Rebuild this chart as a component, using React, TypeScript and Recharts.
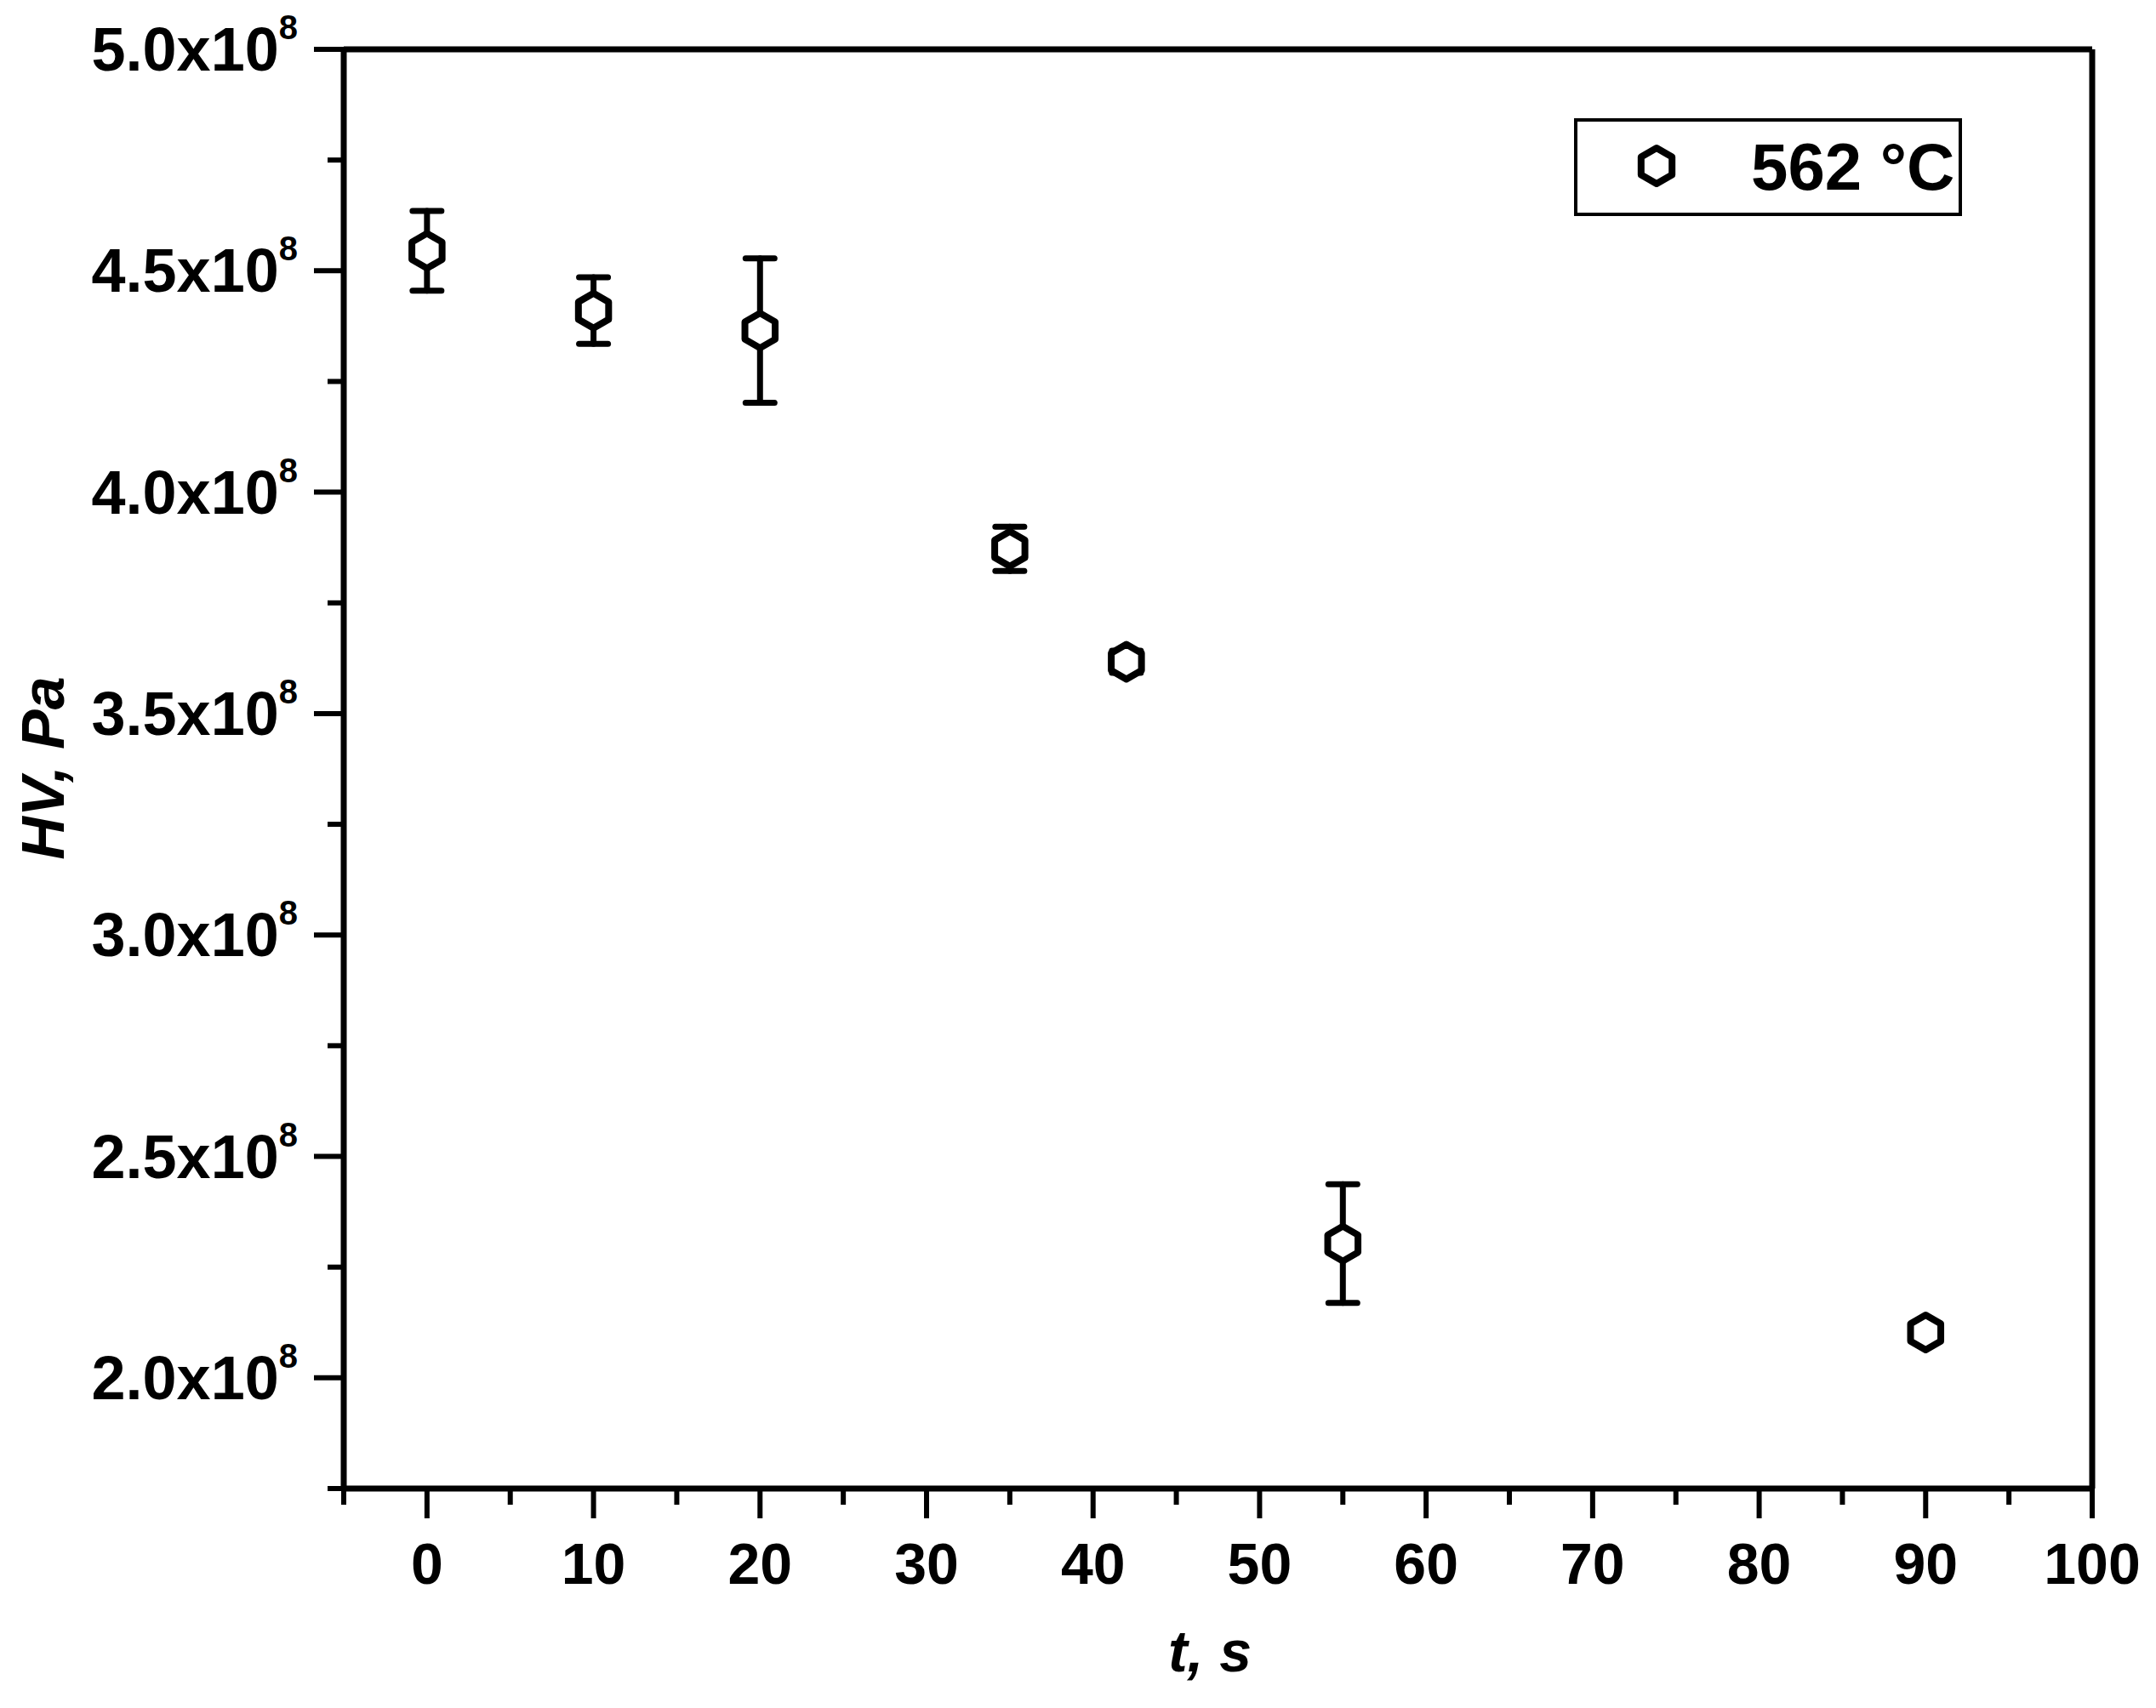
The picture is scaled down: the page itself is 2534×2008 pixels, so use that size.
import { ScatterChart, Scatter, XAxis, YAxis, ErrorBar, ReferenceLine, Legend } from "recharts";

// hardness vs holding time at 562 °C
const times = [0, 10, 20, 35, 42, 55, 90];
const hardness = [4.545e8, 4.41e8, 4.365e8, 3.872e8, 3.617e8, 2.303e8, 2.1025e8];
const hardnessErr = [0.09e8, 0.075e8, 0.163e8, 0.05e8, 0.025e8, 0.134e8, 0.006e8];

const xTicks = [-5, 0, 5, 10, 15, 20, 25, 30, 35, 40, 45, 50, 55, 60, 65, 70, 75, 80, 85, 90, 95, 100];
const yTicks = [1.75e8, 2.0e8, 2.25e8, 2.5e8, 2.75e8, 3.0e8, 3.25e8, 3.5e8, 3.75e8, 4.0e8, 4.25e8, 4.5e8, 4.75e8, 5.0e8];
const seriesName = "562 °C";

const FONT = '"Liberation Sans", Arial, Helvetica, sans-serif';

const points = times.map((t, i) => ({ t, hv: hardness[i], err: hardnessErr[i] }));

function hexPoints(cx: number, cy: number, r: number) {
  const pts: string[] = [];
  for (let k = 0; k < 6; k++) {
    const a = (Math.PI / 3) * k - Math.PI / 2;
    pts.push(`${cx + r * Math.cos(a)},${cy + r * Math.sin(a)}`);
  }
  return pts.join(" ");
}

function HexMarker(props: any) {
  const { cx, cy } = props;
  if (cx == null || cy == null) return <g />;
  return <polygon points={hexPoints(cx, cy, 20.5)} fill="#fff" stroke="#000" strokeWidth={8} strokeLinejoin="round" />;
}

function XTick(props: any) {
  const { x, y, payload } = props;
  const v = payload.value;
  const major = v % 10 === 0;
  const len = major ? 35 : 19;
  return (
    <g>
      <line x1={x} x2={x} y1={y} y2={y + len} stroke="#000" strokeWidth={6} />
      {major && (
        <text x={x} y={y + 112} textAnchor="middle" fontSize={68} fontWeight="bold" fontFamily={FONT} fill="#000">
          {v}
        </text>
      )}
    </g>
  );
}

function YTick(props: any) {
  const { x, y, payload } = props;
  const v = payload.value;
  const r = v / 0.5e8;
  const major = Math.abs(r - Math.round(r)) < 1e-6;
  const len = major ? 35 : 19;
  return (
    <g>
      <line x1={x - len} x2={x} y1={y} y2={y} stroke="#000" strokeWidth={6} />
      {major && (
        <text x={x - 54} y={y + 25} textAnchor="end" fontSize={72} fontWeight="bold" fontFamily={FONT} fill="#000">
          {(v / 1e8).toFixed(1)}x10
          <tspan dy={-37} fontSize={40}>8</tspan>
        </text>
      )}
    </g>
  );
}

function LegendBox() {
  return (
    <svg width={460} height={120} style={{ display: "block" }}>
      <rect x={2} y={2} width={452} height={111} fill="#fff" stroke="#000" strokeWidth={4} />
      <polygon points={hexPoints(97, 56, 21)} fill="#fff" stroke="#000" strokeWidth={8} strokeLinejoin="round" />
      <text x={208} y={84} fontSize={78} fontWeight="bold" fontFamily={FONT} fill="#000">
        {seriesName}
      </text>
    </svg>
  );
}

export default function App() {
  return (
    <div style={{ position: "absolute", left: 0, top: 0, width: 2534, height: 2008, background: "#fff" }}>
      <ScatterChart width={2534} height={2008} margin={{ top: 58, right: 75, left: 304, bottom: 158 }}>
        <XAxis
          type="number"
          dataKey="t"
          domain={[-5, 100]}
          ticks={xTicks}
          interval={0}
          allowDataOverflow
          height={100}
          tickSize={0}
          tickMargin={0}
          tickLine={false}
          axisLine={{ stroke: "#000", strokeWidth: 7 }}
          tick={<XTick />}
          label={{
            content: () => (
              <text x={1422} y={1965} textAnchor="middle" fontSize={68} fontWeight="bold" fontStyle="italic" fontFamily={FONT} fill="#000">
                t, s
              </text>
            ),
          }}
        />
        <YAxis
          type="number"
          dataKey="hv"
          domain={[1.75e8, 5.0e8]}
          ticks={yTicks}
          interval={0}
          allowDataOverflow
          width={100}
          tickSize={0}
          tickMargin={0}
          tickLine={false}
          axisLine={{ stroke: "#000", strokeWidth: 7 }}
          tick={<YTick />}
          label={{
            content: () => (
              <text
                x={75}
                y={903}
                transform="rotate(-90 75 903)"
                textAnchor="middle"
                fontSize={70}
                fontWeight="bold"
                fontStyle="italic"
                fontFamily={FONT}
                fill="#000"
              >
                HV, Pa
              </text>
            ),
          }}
        />
        <ReferenceLine y={5.0e8} stroke="#000" strokeWidth={7} />
        <ReferenceLine x={100} stroke="#000" strokeWidth={7} />
        <Legend
          layout="horizontal"
          verticalAlign="middle"
          align="center"
          wrapperStyle={{ left: 1850, top: 139, width: 460, height: 120 }}
          content={() => <LegendBox />}
        />
        <Scatter name={seriesName} data={points} shape={<HexMarker />} isAnimationActive={false}>
          <ErrorBar
            dataKey="err"
            direction="y"
            width={17}
            stroke="#000"
            strokeWidth={7}
            strokeLinecap="round"
            isAnimationActive={false}
          />
        </Scatter>
      </ScatterChart>
    </div>
  );
}
